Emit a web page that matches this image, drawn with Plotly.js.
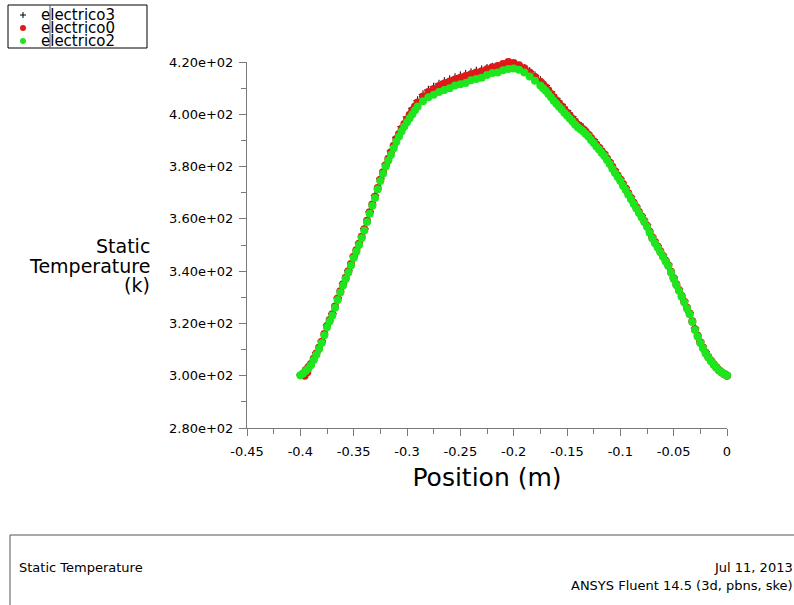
<!DOCTYPE html>
<html>
<head>
<meta charset="utf-8">
<script src="https://cdn.plot.ly/plotly-3.0.1.min.js"></script>
<style>html,body{margin:0;padding:0;background:#fff;}#chart{width:794px;height:605px;}</style>
</head>
<body>
<div id="chart"></div>
<script>
const seriesNames = ["electrico3", "electrico0", "electrico2"];

// sample positions (m) for electrico3
const position3 = [-0.400,-0.395,-0.390,-0.385,-0.380,-0.375,-0.370,-0.365,-0.360,-0.355,
  -0.350,-0.345,-0.340,-0.335,-0.330,-0.325,-0.320,-0.315,-0.310,-0.305,
  -0.300,-0.295,-0.290,-0.285,-0.280,-0.275,-0.270,-0.265,-0.260,-0.255,
  -0.250,-0.245,-0.240,-0.235,-0.230,-0.225,-0.220,-0.215,-0.210,-0.205,
  -0.200,-0.195,-0.190,-0.185,-0.180,-0.175,-0.170,-0.165,-0.160,-0.155,
  -0.150,-0.145,-0.140,-0.135,-0.130,-0.125,-0.120,-0.115,-0.110,-0.105,
  -0.100,-0.095,-0.090,-0.085,-0.080,-0.075,-0.070,-0.065,-0.060,-0.055,
  -0.050,-0.045,-0.040,-0.035,-0.030,-0.025,-0.020,-0.015,-0.010,-0.005,0.000];

const electrico3 = [300.3,301.8,304.8,308.8,313.3,319.3,323.8,329.8,335.3,340.3,
  345.8,350.8,356.3,362.8,369.0,375.5,381.0,386.0,391.2,395.3,
  399.0,402.3,405.3,407.6,409.3,410.5,411.6,412.6,413.3,414.1,
  414.8,415.4,416.0,416.6,417.1,417.6,418.1,418.4,418.7,419.0,
  418.9,418.4,417.6,416.4,414.8,413.0,411.0,408.6,406.1,403.8,
  401.4,399.1,396.8,395.0,392.8,390.3,387.8,385.2,382.1,378.7,
  375.5,372.0,368.4,364.8,361.3,357.8,353.3,349.8,346.2,342.7,
  337.7,333.2,328.7,324.2,318.2,313.2,309.2,306.0,303.5,301.5,300.3];

// sample positions (m) for electrico0 and electrico2 (denser on the slopes)
const position = [
  -0.4000,-0.3975,-0.3950,-0.3925,-0.3900,-0.3875,-0.3850,-0.3825,-0.3800,-0.3775,
  -0.3750,-0.3725,-0.3700,-0.3675,-0.3650,-0.3625,-0.3600,-0.3575,-0.3550,-0.3525,
  -0.3500,-0.3475,-0.3450,-0.3425,-0.3400,-0.3375,-0.3350,-0.3325,-0.3300,-0.3275,
  -0.3250,-0.3225,-0.3200,-0.3175,-0.3150,-0.3125,-0.3100,-0.3075,-0.3050,-0.3025,
  -0.3000,-0.2975,-0.2950,-0.2925,-0.2900,
  -0.285,-0.280,-0.275,-0.270,-0.265,-0.260,-0.255,-0.250,-0.245,-0.240,
  -0.235,-0.230,-0.225,-0.220,-0.215,-0.210,-0.205,-0.200,-0.195,-0.190,
  -0.185,-0.180,-0.175,
  -0.1725,-0.1700,-0.1675,-0.1650,-0.1625,-0.1600,-0.1575,-0.1550,-0.1525,-0.1500,
  -0.1475,-0.1450,-0.1425,-0.1400,-0.1375,-0.1350,-0.1325,-0.1300,-0.1275,-0.1250,
  -0.1225,-0.1200,-0.1175,-0.1150,-0.1125,-0.1100,-0.1075,-0.1050,-0.1025,-0.1000,
  -0.0975,-0.0950,-0.0925,-0.0900,-0.0875,-0.0850,-0.0825,-0.0800,-0.0775,-0.0750,
  -0.0725,-0.0700,-0.0675,-0.0650,-0.0625,-0.0600,-0.0575,-0.0550,-0.0525,-0.0500,
  -0.0475,-0.0450,-0.0425,-0.0400,-0.0375,-0.0350,-0.0325,-0.0300,-0.0275,-0.0250,
  -0.0225,-0.0200,-0.0175,-0.0150,-0.0125,-0.0100,-0.0075,-0.0050,-0.0025,0.0000];

// red starts slightly right of the others
const position0 = [
  -0.3960,-0.3935,-0.3950,-0.3925,-0.3900,-0.3875,-0.3850,-0.3825,-0.3800,-0.3775,
  -0.3750,-0.3725,-0.3700,-0.3675,-0.3650,-0.3625,-0.3600,-0.3575,-0.3550,-0.3525,
  -0.3500,-0.3475,-0.3450,-0.3425,-0.3400,-0.3375,-0.3350,-0.3325,-0.3300,-0.3275,
  -0.3250,-0.3225,-0.3200,-0.3175,-0.3150,-0.3125,-0.3100,-0.3075,-0.3050,-0.3025,
  -0.3000,-0.2975,-0.2950,-0.2925,-0.2900,
  -0.285,-0.280,-0.275,-0.270,-0.265,-0.260,-0.255,-0.250,-0.245,-0.240,
  -0.235,-0.230,-0.225,-0.220,-0.215,-0.210,-0.205,-0.200,-0.195,-0.190,
  -0.185,-0.180,-0.175,
  -0.1725,-0.1700,-0.1675,-0.1650,-0.1625,-0.1600,-0.1575,-0.1550,-0.1525,-0.1500,
  -0.1475,-0.1450,-0.1425,-0.1400,-0.1375,-0.1350,-0.1325,-0.1300,-0.1275,-0.1250,
  -0.1225,-0.1200,-0.1175,-0.1150,-0.1125,-0.1100,-0.1075,-0.1050,-0.1025,-0.1000,
  -0.0975,-0.0950,-0.0925,-0.0900,-0.0875,-0.0850,-0.0825,-0.0800,-0.0775,-0.0750,
  -0.0725,-0.0700,-0.0675,-0.0650,-0.0625,-0.0600,-0.0575,-0.0550,-0.0525,-0.0500,
  -0.0475,-0.0450,-0.0425,-0.0400,-0.0375,-0.0350,-0.0325,-0.0300,-0.0275,-0.0250,
  -0.0225,-0.0200,-0.0175,-0.0150,-0.0125,-0.0100,-0.0075,-0.0050,-0.0025,0.0000];

const electrico0 = [
  300.0,301.3,302.1,303.2,304.5,306.5,308.5,310.7,313.0,316.0,
  319.0,321.3,323.5,326.5,329.5,332.3,335.0,337.5,340.0,342.7,
  345.5,348.0,350.5,353.2,356.0,359.3,362.5,365.5,368.5,371.8,
  375.0,377.8,380.5,383.0,385.5,388.0,390.5,392.5,394.5,396.3,
  398.0,399.8,401.5,403.0,404.5,
  406.8,408.5,409.7,410.8,411.8,412.5,413.3,414.0,414.6,415.3,
  416.0,416.5,417.2,418.0,418.5,419.2,420.0,419.6,418.8,417.6,
  416.0,414.3,412.4,
  411.4,410.3,409.1,407.8,406.5,405.3,404.2,403.0,401.8,400.6,
  399.5,398.3,397.1,396.0,395.2,394.3,393.3,392.2,390.9,389.7,
  388.4,387.2,385.9,384.7,383.1,381.6,379.9,378.2,376.6,375.1,
  373.3,371.6,369.8,368.0,366.2,364.4,362.6,360.9,359.2,357.4,
  355.1,352.9,351.1,349.4,347.6,345.8,344.0,342.3,339.8,337.3,
  335.0,332.8,330.5,328.3,326.0,323.8,320.8,317.8,315.3,312.8,
  310.8,308.8,307.2,305.7,304.4,303.2,302.1,301.3,300.6,300.0];

const electrico2 = [
  300.2,300.8,301.8,302.8,304.0,306.0,308.0,310.2,312.5,315.5,
  318.5,320.8,323.0,326.0,329.0,331.8,334.5,337.0,339.5,342.2,
  345.0,347.5,350.0,352.7,355.5,358.8,362.0,365.0,368.0,371.3,
  374.5,377.3,380.0,382.3,384.5,387.0,389.5,391.5,393.5,395.3,
  397.0,398.5,400.0,401.5,403.0,
  405.0,406.5,407.5,408.5,409.3,410.0,411.0,411.5,412.0,413.0,
  413.5,414.0,415.0,415.8,416.0,416.8,417.3,417.5,417.0,416.0,
  414.5,412.8,411.0,
  410.0,409.0,407.8,406.5,405.2,404.0,402.9,401.8,400.6,399.5,
  398.4,397.3,396.1,395.0,394.3,393.5,392.5,391.5,390.2,389.0,
  387.7,386.5,385.2,384.0,382.5,381.0,379.2,377.5,376.0,374.5,
  372.7,371.0,369.2,367.5,365.7,364.0,362.2,360.5,358.8,357.0,
  354.7,352.5,350.7,349.0,347.2,345.5,343.7,342.0,339.5,337.0,
  334.7,332.5,330.2,328.0,325.7,323.5,320.5,317.5,315.0,312.5,
  310.5,308.5,307.0,305.5,304.2,303.0,302.0,301.2,300.6,300.2];

const xTickVals = [-0.45,-0.4,-0.35,-0.3,-0.25,-0.2,-0.15,-0.1,-0.05,0];
const xTickText = ["-0.45","-0.4","-0.35","-0.3","-0.25","-0.2","-0.15","-0.1","-0.05","0"];
const yTickVals = [280,300,320,340,360,380,400,420];
const yTickText = ["2.80e+02","3.00e+02","3.20e+02","3.40e+02","3.60e+02","3.80e+02","4.00e+02","4.20e+02"];

const FONT = "DejaVu Sans, Arial, sans-serif";
const AXC = "#7a7a7a";

const traces = [
  {x: position3, y: electrico3, name: seriesNames[0], type: "scatter", mode: "markers", cliponaxis: false,
   marker: {symbol: "cross-thin", size: 6, line: {color: "#000000", width: 1}, color: "#000000"}},
  {x: position0, y: electrico0, name: seriesNames[1], type: "scatter", mode: "markers", cliponaxis: false,
   marker: {symbol: "circle", size: 8, color: "#e01818"}},
  {x: position, y: electrico2, name: seriesNames[2], type: "scatter", mode: "markers", cliponaxis: false,
   marker: {symbol: "circle", size: 8, color: "#1ee61e"}}
];

// paper coordinate helpers (plot area: x 247..727, y 62..428)
const L = 247, R = 727, T = 62, B = 428;
const px = v => (v - L) / (R - L);
const py = v => (B - v) / (B - T);

const shapes = [
  {type: "rect", xref: "paper", yref: "paper", x0: px(8), x1: px(147), y0: py(48), y1: py(5),
   line: {color: "#000000", width: 1}},
  {type: "line", xref: "paper", yref: "paper", x0: px(50), x1: px(50), y0: py(48), y1: py(5),
   line: {color: "#555555", width: 1}},
  {type: "line", xref: "paper", yref: "paper", x0: px(20), x1: px(26), y0: py(15), y1: py(15), line: {color: "#000", width: 1}},
  {type: "line", xref: "paper", yref: "paper", x0: px(23), x1: px(23), y0: py(12), y1: py(18), line: {color: "#000", width: 1}},
  {type: "circle", xref: "paper", yref: "paper", x0: px(20), x1: px(26), y0: py(31), y1: py(25),
   fillcolor: "#e01818", line: {color: "#e01818", width: 0}},
  {type: "circle", xref: "paper", yref: "paper", x0: px(20), x1: px(26), y0: py(44), y1: py(38),
   fillcolor: "#1ee61e", line: {color: "#1ee61e", width: 0}},
  {type: "rect", xref: "paper", yref: "paper", x0: px(10), x1: px(810), y0: py(620), y1: py(535),
   line: {color: "#555555", width: 1}}
];

const annotations = [
  {text: seriesNames[0], xref: "paper", yref: "paper", x: px(39), y: py(15), xanchor: "left", yanchor: "middle",
   showarrow: false, font: {family: FONT, size: 15, color: "#000"}},
  {text: seriesNames[1], xref: "paper", yref: "paper", x: px(39), y: py(28), xanchor: "left", yanchor: "middle",
   showarrow: false, font: {family: FONT, size: 15, color: "#000"}},
  {text: seriesNames[2], xref: "paper", yref: "paper", x: px(39), y: py(41), xanchor: "left", yanchor: "middle",
   showarrow: false, font: {family: FONT, size: 15, color: "#000"}},
  {text: "Static", xref: "paper", yref: "paper", x: px(152), y: py(246), xanchor: "right", yanchor: "middle",
   showarrow: false, font: {family: FONT, size: 19, color: "#000"}},
  {text: "Temperature", xref: "paper", yref: "paper", x: px(152), y: py(266), xanchor: "right", yanchor: "middle",
   showarrow: false, font: {family: FONT, size: 19, color: "#000"}},
  {text: "(k)", xref: "paper", yref: "paper", x: px(152), y: py(285), xanchor: "right", yanchor: "middle",
   showarrow: false, font: {family: FONT, size: 19, color: "#000"}},
  {text: "Static Temperature", xref: "paper", yref: "paper", x: px(17), y: py(567), xanchor: "left", yanchor: "middle",
   showarrow: false, font: {family: FONT, size: 13, color: "#000"}},
  {text: "Jul 11, 2013", xref: "paper", yref: "paper", x: px(795), y: py(567), xanchor: "right", yanchor: "middle",
   showarrow: false, font: {family: FONT, size: 13, color: "#000"}},
  {text: "ANSYS Fluent 14.5 (3d, pbns, ske)", xref: "paper", yref: "paper", x: px(795), y: py(585), xanchor: "right", yanchor: "middle",
   showarrow: false, font: {family: FONT, size: 13, color: "#000"}}
];

const layout = {
  width: 794, height: 605,
  margin: {l: L, r: 794 - R, t: T, b: 605 - B, pad: 0},
  paper_bgcolor: "#ffffff", plot_bgcolor: "#ffffff",
  showlegend: false,
  font: {family: FONT, size: 13, color: "#000"},
  xaxis: {
    range: [-0.45, 0], tickmode: "array", tickvals: xTickVals, ticktext: xTickText,
    showgrid: false, zeroline: false, showline: true, linecolor: AXC, linewidth: 1,
    ticks: "outside", ticklen: 7, tickcolor: AXC, tickwidth: 1,
    tickfont: {family: FONT, size: 13, color: "#000"},
    ticklabelstandoff: 4,
    minor: {tickmode: "linear", tick0: 0, dtick: 0.025, ticks: "outside", ticklen: 5, tickcolor: AXC, tickwidth: 1, showgrid: false},
    title: {text: "Position (m)", font: {family: FONT, size: 25, color: "#000"}, standoff: 10},
    fixedrange: true
  },
  yaxis: {
    range: [280, 420], tickmode: "array", tickvals: yTickVals, ticktext: yTickText,
    showgrid: false, zeroline: false, showline: true, linecolor: AXC, linewidth: 1,
    ticks: "outside", ticklen: 7, tickcolor: AXC, tickwidth: 1,
    tickfont: {family: FONT, size: 13, color: "#000"},
    minor: {tickmode: "linear", tick0: 280, dtick: 10, ticks: "outside", ticklen: 5, tickcolor: AXC, tickwidth: 1, showgrid: false},
    ticklabelstandoff: 3,
    fixedrange: true
  },
  shapes: shapes,
  annotations: annotations
};

Plotly.newPlot("chart", traces, layout, {staticPlot: true, displayModeBar: false});
</script>
</body>
</html>
